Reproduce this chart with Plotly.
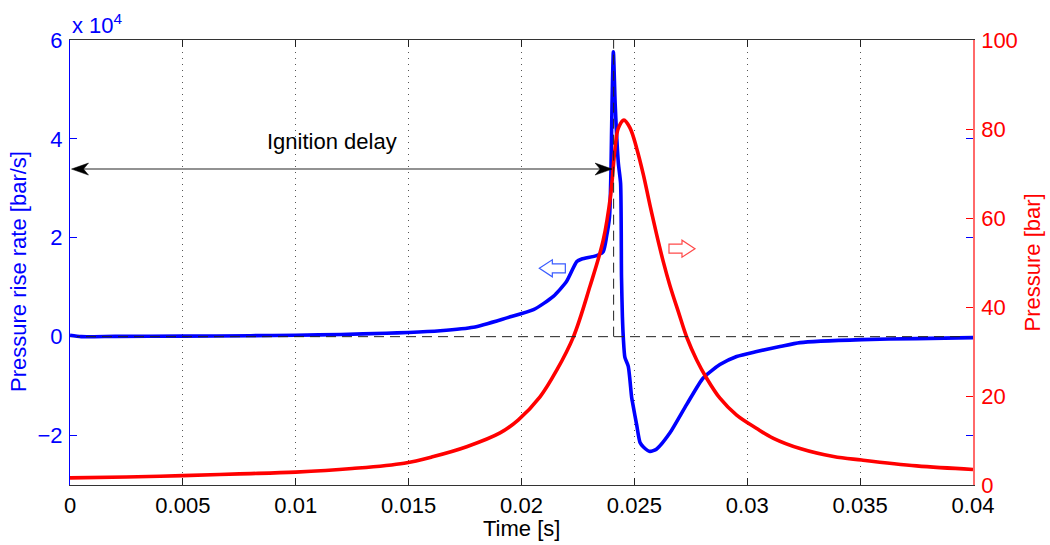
import plotly.graph_objects as go

# Chamber pressure trace: time [s] and pressure [bar]
time_p = [0, 0.0025, 0.005, 0.0075, 0.01, 0.0125, 0.0148, 0.0161, 0.01757, 0.01905,
          0.01985, 0.02082, 0.02156, 0.0223, 0.02303, 0.02362, 0.02395, 0.02414, 0.02429,
          0.02454, 0.02481, 0.0251, 0.0254, 0.02569, 0.02599, 0.02628, 0.02657, 0.02695,
          0.02732, 0.02776, 0.0282, 0.02879, 0.02953, 0.03042, 0.03116, 0.03234, 0.03382,
          0.03507, 0.0375, 0.04]
pressure = [1.6, 1.8, 2.1, 2.5, 2.9, 3.7, 4.9, 6.4, 8.6, 11.7,
            14.6, 19.8, 25.8, 33.3, 44.6, 55.0, 65.2, 75.5, 80.2,
            82.0, 80.2, 75.7, 69.7, 62.9, 56.2, 50.2, 44.9, 38.9,
            33.2, 28.1, 24.0, 19.5, 15.7, 12.7, 10.5, 8.2, 6.4,
            5.6, 4.3, 3.5]

# Pressure rise rate trace: time [s] and dp/dt [bar/s]
time_r = [0, 0.0005, 0.002, 0.005, 0.008, 0.01, 0.012, 0.014, 0.015, 0.0164,
          0.01787, 0.01935, 0.02053, 0.02141, 0.022, 0.02245, 0.02267, 0.02333, 0.02362, 0.02377,
          0.0239, 0.02396, 0.02401, 0.02407, 0.02415, 0.02429, 0.02439, 0.02443, 0.02447, 0.02451,
          0.02458, 0.02473, 0.02488, 0.02495, 0.0251, 0.02525, 0.0254, 0.02569, 0.02599, 0.02657,
          0.02732, 0.02805, 0.02879, 0.02953, 0.03042, 0.03145, 0.03234, 0.03508, 0.0375, 0.04]
rise_rate = [300, 0, 50, 100, 200, 300, 450, 700, 850, 1200,
             1900, 3800, 5450, 8150, 11200, 15200, 15700, 16400, 17200, 20300,
             24300, 33000, 47000, 57600, 47000, 35100, 31000, 12000, 4000, -200,
             -4200, -6000, -12300, -14100, -17800, -21400, -22300, -23200, -22700, -19500,
             -13700, -8350, -5650, -4000, -3000, -2000, -1200, -600, -400, -200]

# Ignition instant [s] and the level [bar/s] of the delay arrow
ignition_time = 0.02408
delay_arrow_level = 33900

x_ticks = [0, 0.005, 0.01, 0.015, 0.02, 0.025, 0.03, 0.035, 0.04]
x_tick_labels = ["0", "0.005", "0.01", "0.015", "0.02", "0.025", "0.03", "0.035", "0.04"]
rate_ticks = [-20000, 0, 20000, 40000, 60000]
rate_tick_labels = ["\u22122", "0", "2", "4", "6"]
pressure_ticks = [0, 20, 40, 60, 80, 100]
pressure_tick_labels = ["0", "20", "40", "60", "80", "100"]

# Page geometry
W, H = 1050, 545
ML, MR, MT, MB = 70, 77, 40, 60
PW, PH = W - ML - MR, H - MT - MB
X_RANGE = [0, 0.04]
Y_RANGE = [-30000, 60000]
Y2_RANGE = [0, 100]
SX = (X_RANGE[1] - X_RANGE[0]) / PW       # seconds per pixel
SY = (Y_RANGE[1] - Y_RANGE[0]) / PH       # bar/s per pixel
SY2 = (Y2_RANGE[1] - Y2_RANGE[0]) / PH    # bar per pixel

FONT = "Liberation Sans, Arial, Helvetica, sans-serif"
FS = 22
BLUE = "#0000ff"
RED = "#ff0000"


def block_arrow(tip_x, tip_y, direction, sy, length=26, head=13, half_h=8.5, half_s=4.5):
    """Hollow block arrow; offsets are in pixels measured back from the tip."""
    pts = [(0, 0), (head, half_h), (head, half_s), (length, half_s),
           (length, -half_s), (head, -half_s), (head, -half_h)]
    coords = [(tip_x - direction * dx * SX, tip_y + dy * sy) for dx, dy in pts]
    return "M " + " L ".join(f"{x},{y}" for x, y in coords) + " Z"


def notched_head(tip_x, tip_y, direction, length=17, half_h=6, notch=12):
    pts = [(0, 0), (length, half_h), (notch, 0), (length, -half_h)]
    coords = [(tip_x - direction * dx * SX, tip_y + dy * SY) for dx, dy in pts]
    return "M " + " L ".join(f"{x},{y}" for x, y in coords) + " Z"


fig = go.Figure()

fig.add_trace(go.Scatter(x=time_r, y=rise_rate, mode="lines", yaxis="y",
                         line=dict(color=BLUE, width=3.6, shape="spline", smoothing=0.6),
                         hoverinfo="skip"))
fig.add_trace(go.Scatter(x=time_p, y=pressure, mode="lines", yaxis="y2",
                         line=dict(color=RED, width=3.6, shape="spline", smoothing=1.0),
                         hoverinfo="skip"))

# Reference lines: zero rate and ignition instant
dash = dict(color="#222222", width=1, dash="10px,6px")
fig.add_trace(go.Scatter(x=X_RANGE, y=[0, 0], mode="lines", yaxis="y3",
                         line=dash, hoverinfo="skip"))
fig.add_trace(go.Scatter(x=[ignition_time, ignition_time], y=[0, Y_RANGE[1]], mode="lines",
                         yaxis="y3", line=dash, hoverinfo="skip"))

shapes = [
    # delay arrow shaft
    dict(type="line", xref="x", yref="y", x0=X_RANGE[0] + 8 * SX, x1=ignition_time - 8 * SX,
         y0=delay_arrow_level, y1=delay_arrow_level, line=dict(color="#6e6e6e", width=1.6),
         layer="above"),
    dict(type="path", xref="x", yref="y", path=notched_head(X_RANGE[0] + 1.5 * SX, delay_arrow_level, -1),
         fillcolor="black", line=dict(color="black", width=0.5), layer="above"),
    dict(type="path", xref="x", yref="y", path=notched_head(ignition_time - 1.5 * SX, delay_arrow_level, 1),
         fillcolor="black", line=dict(color="black", width=0.5), layer="above"),
    # axis-side indicators
    dict(type="path", xref="x", yref="y", path=block_arrow(0.02079, 13830, -1, SY),
         fillcolor="white", line=dict(color="#3a5cff", width=1.2), layer="above"),
    dict(type="path", xref="x", yref="y2", path=block_arrow(0.027685, 53.1, 1, SY2),
         fillcolor="white", line=dict(color="#ff4a4a", width=1.2), layer="above"),
]

annotations = [
    dict(text="Ignition delay", x=0.0116, y=39450, xref="x", yref="y", showarrow=False,
         font=dict(family=FONT, size=FS, color="black"), xanchor="center", yanchor="middle"),
    dict(text="Time [s]", x=0.5, y=-0.097, xref="paper", yref="paper", showarrow=False,
         font=dict(family=FONT, size=FS, color="black"), xanchor="center", yanchor="middle"),
    dict(text="Pressure rise rate [bar/s]", x=-0.0565, y=0.481, xref="paper", yref="paper",
         textangle=-90, showarrow=False, font=dict(family=FONT, size=FS, color=BLUE),
         xanchor="center", yanchor="middle"),
    dict(text="Pressure [bar]", x=1.0664, y=0.5, xref="paper", yref="paper",
         textangle=-90, showarrow=False, font=dict(family=FONT, size=FS, color=RED),
         xanchor="center", yanchor="middle"),
    dict(text="x 10<sup>4</sup>", x=0.0, y=1.0, xref="paper", yref="paper", showarrow=False,
         font=dict(family=FONT, size=FS, color=BLUE), xanchor="left", yanchor="bottom", yshift=0),
]

fig.update_layout(
    width=W, height=H,
    margin=dict(l=ML, r=MR, t=MT, b=MB),
    paper_bgcolor="white", plot_bgcolor="white",
    showlegend=False,
    font=dict(family=FONT, size=FS),
    xaxis=dict(range=X_RANGE, tickvals=x_ticks, ticktext=x_tick_labels,
               ticks="inside", ticklen=7, tickcolor="#222222", tickwidth=1,
               showline=True, linecolor="#333333", linewidth=1, mirror="ticks",
               showgrid=True, gridcolor="#555555", gridwidth=1, griddash="1px,5px",
               zeroline=False, tickfont=dict(family=FONT, size=FS, color="black"),
               ticklabelstandoff=1),
    yaxis=dict(range=Y_RANGE, tickvals=rate_ticks, ticktext=rate_tick_labels,
               ticks="inside", ticklen=7, tickcolor=BLUE, showline=True, linecolor=BLUE,
               linewidth=1, showgrid=False, zeroline=False,
               tickfont=dict(family=FONT, size=FS, color=BLUE), ticklabelstandoff=2),
    yaxis2=dict(range=Y2_RANGE, tickvals=pressure_ticks, ticktext=pressure_tick_labels,
                overlaying="y", side="right", ticks="inside", ticklen=7, tickcolor=RED,
                showline=True, linecolor="#ff6a6a", linewidth=1.5, showgrid=False,
                zeroline=False, tickfont=dict(family=FONT, size=FS, color=RED),
                ticklabelstandoff=2),
    yaxis3=dict(range=Y_RANGE, tickvals=rate_ticks, overlaying="y", side="right",
                ticks="inside", ticklen=7, tickcolor=BLUE, showticklabels=False,
                showline=False, showgrid=False, zeroline=False),
    shapes=shapes,
    annotations=annotations,
)

fig.write_html("out.html")
